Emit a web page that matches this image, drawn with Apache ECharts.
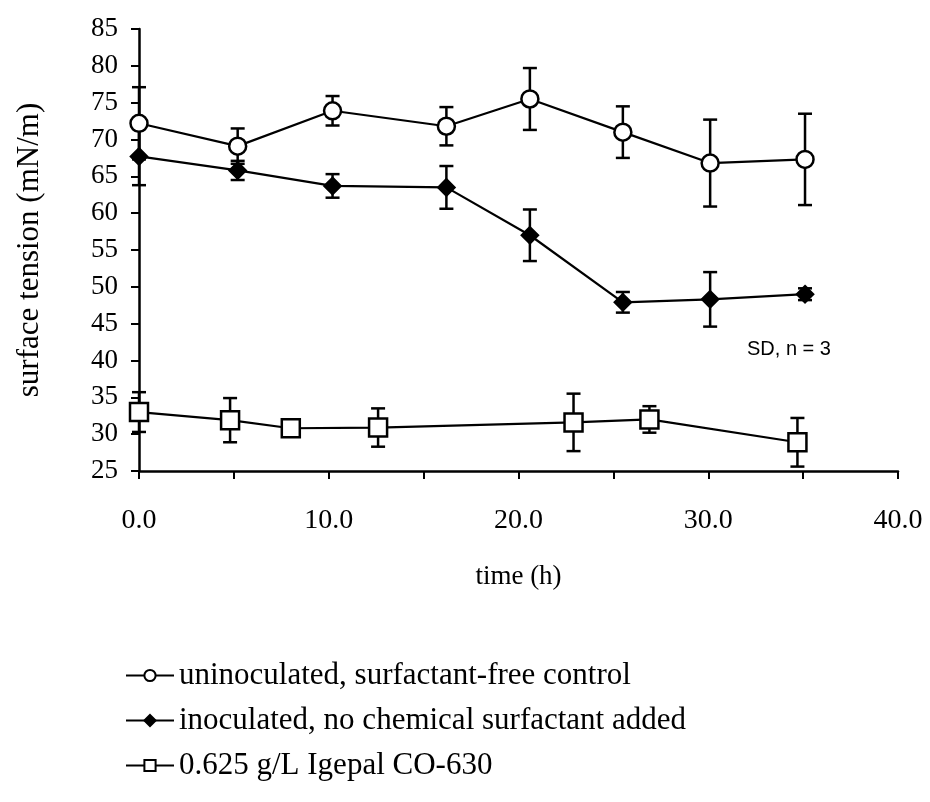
<!DOCTYPE html>
<html>
<head>
<meta charset="utf-8">
<script src="https://cdn.jsdelivr.net/npm/echarts@6/dist/echarts.min.js"></script>
<style>
  html, body { margin: 0; padding: 0; background: #fff; }
  #chart { width: 930px; height: 802px; }
</style>
</head>
<body>
<div id="chart"></div>
<script>
// Surface tension over time, mean ± SD (n = 3)
const ctrlName = 'uninoculated, surfactant-free control';
const ctrlTime = [0, 5.2, 10.2, 16.2, 20.6, 25.5, 30.1, 35.1];
const ctrlMean = [72.2, 69.1, 73.9, 71.8, 75.5, 71.0, 66.8, 67.3];
const ctrlSd   = [4.9, 2.4, 2.0, 2.6, 4.2, 3.5, 5.9, 6.2];

const inocName = 'inoculated, no chemical surfactant added';
const inocTime = [0, 5.2, 10.2, 16.2, 20.6, 25.5, 30.1, 35.1];
const inocMean = [67.7, 65.8, 63.7, 63.5, 57.0, 47.9, 48.3, 49.0];
const inocSd   = [3.9, 1.3, 1.6, 2.9, 3.5, 1.4, 3.7, 0.8];

const igepalName = '0.625 g/L Igepal CO-630';
const igepalTime = [0, 4.8, 8.0, 12.6, 22.9, 26.9, 34.7];
const igepalMean = [33.0, 31.9, 30.8, 30.9, 31.6, 32.0, 28.9];
const igepalSd   = [2.7, 3.0, 0.6, 2.6, 3.9, 1.8, 3.3];

const serif = '"Liberation Serif", "Times New Roman", serif';
const ink = '#000';

function pairs(xs, ys) { return xs.map((x, i) => [x, ys[i]]); }
function errRows(xs, ys, sd) { return xs.map((x, i) => [x, ys[i] - sd[i], ys[i] + sd[i]]); }

// whiskers with caps at both ends
function errorBar(name, rows) {
  return {
    name: name + ' SD',
    type: 'custom',
    z: 1,
    silent: true,
    data: rows,
    renderItem: function (params, api) {
      const x = api.value(0);
      const lo = api.coord([x, api.value(1)]);
      const hi = api.coord([x, api.value(2)]);
      const half = 7;
      const style = { stroke: ink, lineWidth: 2.5 };
      return {
        type: 'group',
        children: [
          { type: 'line', shape: { x1: lo[0], y1: lo[1], x2: hi[0], y2: hi[1] }, style: style },
          { type: 'line', shape: { x1: lo[0] - half, y1: lo[1], x2: lo[0] + half, y2: lo[1] }, style: style },
          { type: 'line', shape: { x1: hi[0] - half, y1: hi[1], x2: hi[0] + half, y2: hi[1] }, style: style }
        ]
      };
    }
  };
}

function lineSeries(name, data, symbol, size, fill) {
  return {
    name: name,
    type: 'line',
    z: 3,
    data: data,
    symbol: symbol,
    symbolSize: size,
    showAllSymbol: true,
    lineStyle: { color: ink, width: 2.2 },
    itemStyle: { color: fill, borderColor: ink, borderWidth: 2.5 },
    emphasis: { disabled: true }
  };
}

const chart = echarts.init(document.getElementById('chart'), null, { renderer: 'canvas' });
chart.setOption({
  animation: false,
  backgroundColor: '#fff',
  grid: { left: 139, right: 32, top: 29, bottom: 331, containLabel: false },
  xAxis: {
    type: 'value',
    min: 0, max: 40, interval: 5,
    name: 'time (h)',
    nameLocation: 'middle',
    nameGap: 92,
    nameTextStyle: { fontFamily: serif, fontSize: 27, color: ink },
    axisLine: { lineStyle: { color: ink, width: 2.5 } },
    axisTick: { show: true, length: 8, lineStyle: { color: ink, width: 2 } },
    axisLabel: {
      margin: 36, fontFamily: serif, fontSize: 28, color: ink,
      formatter: v => (v % 10 === 0 ? v.toFixed(1) : '')
    },
    splitLine: { show: false }
  },
  yAxis: {
    type: 'value',
    min: 25, max: 85, interval: 5,
    name: 'surface tension (mN/m)',
    nameLocation: 'middle',
    nameGap: 94,
    nameTextStyle: { fontFamily: serif, fontSize: 31, color: ink },
    axisLine: { show: true, lineStyle: { color: ink, width: 2.5 } },
    axisTick: { show: true, length: 8, lineStyle: { color: ink, width: 2 } },
    axisLabel: { margin: 21, fontFamily: serif, fontSize: 27, color: ink },
    splitLine: { show: false }
  },
  legend: {
    data: [ctrlName, inocName, igepalName],
    orient: 'vertical',
    left: 120,
    top: 655,
    itemGap: 14,
    itemWidth: 48,
    itemHeight: 14,
    textStyle: { fontFamily: serif, fontSize: 31, color: ink },
    selectedMode: false
  },
  graphic: [{
    type: 'text',
    left: 747,
    top: 339,
    style: { text: 'SD, n = 3', fontFamily: '"Liberation Sans", Arial, sans-serif', fontSize: 20, fill: ink }
  }],
  series: [
    errorBar(ctrlName, errRows(ctrlTime, ctrlMean, ctrlSd)),
    errorBar(inocName, errRows(inocTime, inocMean, inocSd)),
    errorBar(igepalName, errRows(igepalTime, igepalMean, igepalSd)),
    lineSeries(ctrlName, pairs(ctrlTime, ctrlMean), 'circle', 17, '#fff'),
    lineSeries(inocName, pairs(inocTime, inocMean), 'diamond', 16, ink),
    lineSeries(igepalName, pairs(igepalTime, igepalMean), 'rect', 18, '#fff')
  ]
});
</script>
</body>
</html>
